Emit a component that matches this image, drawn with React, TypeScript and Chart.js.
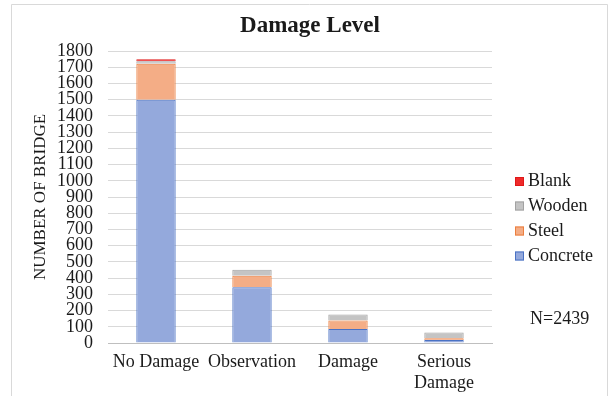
import React, { useEffect, useRef } from "react";
import { Chart, registerables } from "chart.js";

Chart.register(...registerables);

const categories: (string | string[])[] = ["No Damage", "Observation", "Damage", ["Serious", "Damage"]];
const concrete = [1500, 344, 86, 18];
const steel = [222, 70, 52, 11];
const wooden = [15, 37, 37, 35];
const blank = [12, 0, 0, 0];
const yTicks = [0, 100, 200, 300, 400, 500, 600, 700, 800, 900, 1000, 1100, 1200, 1300, 1400, 1500, 1600, 1700, 1800];
const noteText = "N=2439";
const titleText = "Damage Level";
const yTitle = "NUMBER OF BRIDGE";

const SERIF = "'Liberation Serif', 'Times New Roman', serif";

const framePlugin = {
  id: "frame",
  beforeDraw(chart: any) {
    const ctx = chart.ctx;
    ctx.save();
    ctx.fillStyle = "#ffffff";
    ctx.fillRect(0, 0, chart.width, chart.height);
    ctx.strokeStyle = "#d9d9d9";
    ctx.lineWidth = 1;
    ctx.beginPath();
    ctx.moveTo(11.5, 410);
    ctx.lineTo(11.5, 4.5);
    ctx.lineTo(607.5, 4.5);
    ctx.lineTo(607.5, 410);
    ctx.stroke();
    ctx.restore();
  },
};

const overlayPlugin = {
  id: "overlay",
  afterDraw(chart: any) {
    const ctx = chart.ctx;
    const ds = chart.data.datasets.slice().reverse();
    ctx.save();
    ctx.font = `bold 23px ${SERIF}`;
    ctx.fillStyle = "#1a1a1a";
    ctx.textAlign = "center";
    ctx.textBaseline = "middle";
    ctx.fillText(titleText, 310, 26);
    ctx.font = `18px ${SERIF}`;
    ctx.textAlign = "left";
    const ys = [181.5, 206, 231, 256];
    ds.forEach((d: any, i: number) => {
      const y = ys[i];
      ctx.fillStyle = d.backgroundColor;
      ctx.fillRect(515, y - 4.5, 9, 9);
      ctx.strokeStyle = d.borderColor;
      ctx.lineWidth = 1;
      ctx.strokeRect(515.5, y - 4, 8, 8);
      ctx.fillStyle = "#1a1a1a";
      ctx.fillText(d.label, 528, y);
    });
    ctx.font = `18px ${SERIF}`;
    ctx.fillText(noteText, 530, 319.5);
    ctx.restore();
  },
};

export default function App() {
  const ref = useRef<HTMLCanvasElement | null>(null);
  useEffect(() => {
    if (!ref.current) return;
    const chart = new Chart(ref.current, {
      type: "bar",
      data: {
        labels: categories,
        datasets: [
          { label: "Concrete", data: concrete, backgroundColor: "#94a9dc", borderColor: "#4a72c4", borderWidth: 1 },
          { label: "Steel", data: steel, backgroundColor: "#f4ad86", borderColor: "#ec7f3e", borderWidth: 1 },
          { label: "Wooden", data: wooden, backgroundColor: "#c4c4c4", borderColor: "#a2a2a2", borderWidth: 1 },
          { label: "Blank", data: blank, backgroundColor: "#ee2a2a", borderColor: "#e01818", borderWidth: 1 },
        ],
      },
      options: {
        animation: false,
        responsive: true,
        maintainAspectRatio: false,
        layout: { padding: { left: 0, right: 118, top: 51, bottom: 0 } },
        datasets: { bar: { categoryPercentage: 1, barPercentage: 0.41 } },
        plugins: {
          legend: { display: false },
          tooltip: { enabled: false },
          title: { display: false },
        },
        scales: {
          x: {
            stacked: true,
            grid: { display: false, drawTicks: false },
            border: { display: true, color: "#bfbfbf", width: 1 },
            ticks: { color: "#1a1a1a", font: { family: SERIF, size: 18, lineHeight: 1.2 }, padding: 8, maxRotation: 0, autoSkip: false },
            afterFit: (s: any) => { s.height = 53; },
          },
          y: {
            stacked: true,
            min: 0,
            max: 1800,
            afterBuildTicks: (s: any) => { s.ticks = yTicks.map((v) => ({ value: v })); },
            grid: { color: "#d9d9d9", drawTicks: false, lineWidth: 1 },
            border: { display: false },
            ticks: {
              color: "#1a1a1a",
              font: { family: SERIF, size: 18, lineHeight: 1 },
              padding: 15,
              autoSkip: false,
              callback: (v: any) => String(v),
            },
            title: {
              display: true,
              text: yTitle,
              color: "#1a1a1a",
              font: { family: SERIF, size: 17, lineHeight: 1.2 },
              padding: { top: 30, bottom: 0 },
            },
            afterFit: (s: any) => { s.width = 108; },
          },
        },
      },
      plugins: [framePlugin, overlayPlugin],
    });
    return () => chart.destroy();
  }, []);
  return (
    <div style={{ position: "fixed", left: 0, top: 0, width: 610, height: 396 }}>
      <canvas ref={ref} />
    </div>
  );
}
